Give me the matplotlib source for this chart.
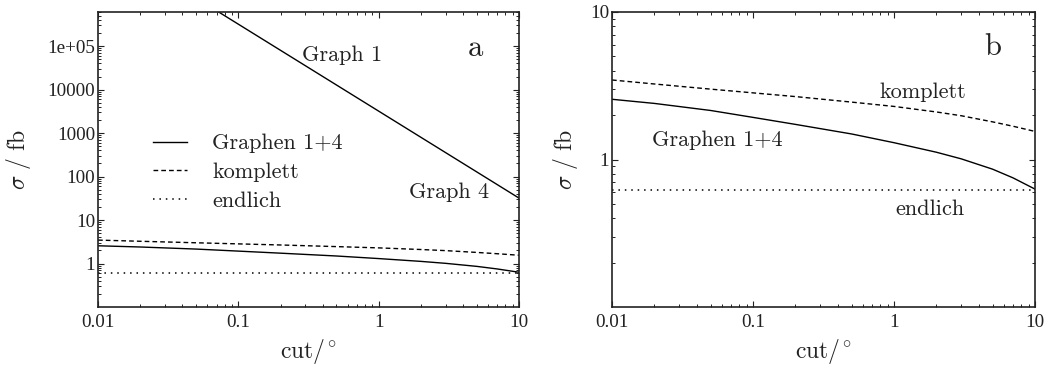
import matplotlib
matplotlib.use("Agg")
import matplotlib.pyplot as plt
from matplotlib.ticker import LogLocator, NullFormatter

plt.rcParams['mathtext.fontset'] = 'cm'
plt.rcParams['axes.unicode_minus'] = False

# ---------------- data ----------------
cut = [0.01, 0.02, 0.05, 0.1, 0.2, 0.5, 1, 2, 3, 5, 7, 10]
graphen14 = [2.56, 2.40, 2.15, 1.93, 1.73, 1.49, 1.30, 1.12, 1.01, 0.86, 0.75, 0.63]
komplett = [3.46, 3.25, 3.00, 2.83, 2.67, 2.45, 2.29, 2.10, 1.98, 1.80, 1.68, 1.55]
endlich = [0.62, 0.62, 0.62, 0.62, 0.62, 0.62, 0.62, 0.62, 0.62, 0.62, 0.62, 0.62]

cut_g1 = [0.01, 0.1, 1, 10]
graph1 = [3.2e7, 3.2e5, 3.2e3, 32]

xticks = [0.01, 0.1, 1, 10]
xticklabels = ["0.01", "0.1", "1", "10"]
yticks_a = [1, 10, 100, 1000, 10000, 1e5]
yticklabels_a = ["1", "10", "100", "1000", "10000", "1e+05"]
yticks_b = [1, 10]
yticklabels_b = ["1", "10"]

W, H = 1047, 366
fig = plt.figure(figsize=(W / 100, H / 100), dpi=100)

def px_axes(x0, x1, y0, y1):
    return fig.add_axes([x0 / W, 1 - y1 / H, (x1 - x0) / W, (y1 - y0) / H])

axa = px_axes(98, 519, 12, 307)
axb = px_axes(612, 1035, 12, 307)

CM = 'cmr10'
tickfont = 'Liberation Serif'
TXT = '#222222'
dash = (0, (3.4, 2.2))
dot = (0, (1.0, 3.2))

def style(ax, ylim, yt, ytl, ylab_x):
    ax.set_xscale('log')
    ax.set_yscale('log')
    ax.set_xlim(0.01, 10)
    ax.set_ylim(*ylim)
    ax.set_xticks(xticks)
    ax.set_xticklabels(xticklabels, fontfamily=tickfont, fontsize=13.8)
    ax.set_yticks(yt)
    ax.set_yticklabels(ytl, fontfamily=tickfont, fontsize=13.8)
    ax.xaxis.set_minor_locator(LogLocator(base=10, subs=range(2, 10), numticks=20))
    ax.yaxis.set_minor_locator(LogLocator(base=10, subs=range(2, 10), numticks=20))
    ax.xaxis.set_minor_formatter(NullFormatter())
    ax.yaxis.set_minor_formatter(NullFormatter())
    ax.tick_params(which='major', direction='in', length=4.5, width=0.8,
                   top=True, right=True, colors=TXT)
    ax.tick_params(axis='y', which='major', pad=2)
    ax.tick_params(axis='x', which='major', pad=5)
    ax.tick_params(which='minor', direction='in', length=2.3, width=0.7,
                   top=True, right=True, colors=TXT)
    for s in ax.spines.values():
        s.set_linewidth(1.2)
        s.set_color(TXT)
    ax.set_xlabel(r'$\mathrm{cut}/^{\circ}$', fontsize=17, labelpad=4, color=TXT)
    ax.set_ylabel(r'$\sigma\ /\ \mathrm{fb}$', fontsize=17, color=TXT)
    ax.yaxis.set_label_coords(ylab_x, 0.5)

# ---------- panel a ----------
l1, = axa.plot(cut, graphen14, color='black', lw=1.0, label='Graphen 1+4')
l2, = axa.plot(cut, komplett, color='black', lw=1.0, linestyle=dash, label='komplett')
l3, = axa.plot(cut, endlich, color='black', lw=1.1, linestyle=dot, label='endlich')
axa.plot(cut_g1, graph1, color='black', lw=1.0)
style(axa, (0.1, 6.1e5), yticks_a, yticklabels_a, -0.155)

axa.text(0.55, 6.2e4, 'Graph 1', fontfamily=CM, fontsize=16, ha='center', va='center', color=TXT)
axa.text(3.2, 44, 'Graph 4', fontfamily=CM, fontsize=16, ha='center', va='center', color=TXT)
axa.text(4.9, 9e4, 'a', fontfamily=CM, fontsize=22, ha='center', va='center', color=TXT)

leg = axa.legend(handles=[l1, l2, l3], loc='upper left', bbox_to_anchor=(0.105, 0.625),
                 frameon=False, borderpad=0, handlelength=1.5, handletextpad=1.15,
                 labelspacing=0.42, prop={'family': CM, 'size': 16})
for t in leg.get_texts():
    t.set_color(TXT)

# ---------- panel b ----------
axb.plot(cut, graphen14, color='black', lw=1.0)
axb.plot(cut, komplett, color='black', lw=1.0, linestyle=dash)
axb.plot(cut, endlich, color='black', lw=1.1, linestyle=dot)
style(axb, (0.1, 10), yticks_b, yticklabels_b, -0.076)

axb.text(1.6, 2.84, 'komplett', fontfamily=CM, fontsize=16, ha='center', va='center', color=TXT)
axb.text(0.0555, 1.36, 'Graphen 1+4', fontfamily=CM, fontsize=16, ha='center', va='center', color=TXT)
axb.text(1.8, 0.46, 'endlich', fontfamily=CM, fontsize=16, ha='center', va='center', color=TXT)
axb.text(5.0, 5.8, 'b', fontfamily=CM, fontsize=22, ha='center', va='center', color=TXT)

fig.savefig('out.png', dpi=100)
